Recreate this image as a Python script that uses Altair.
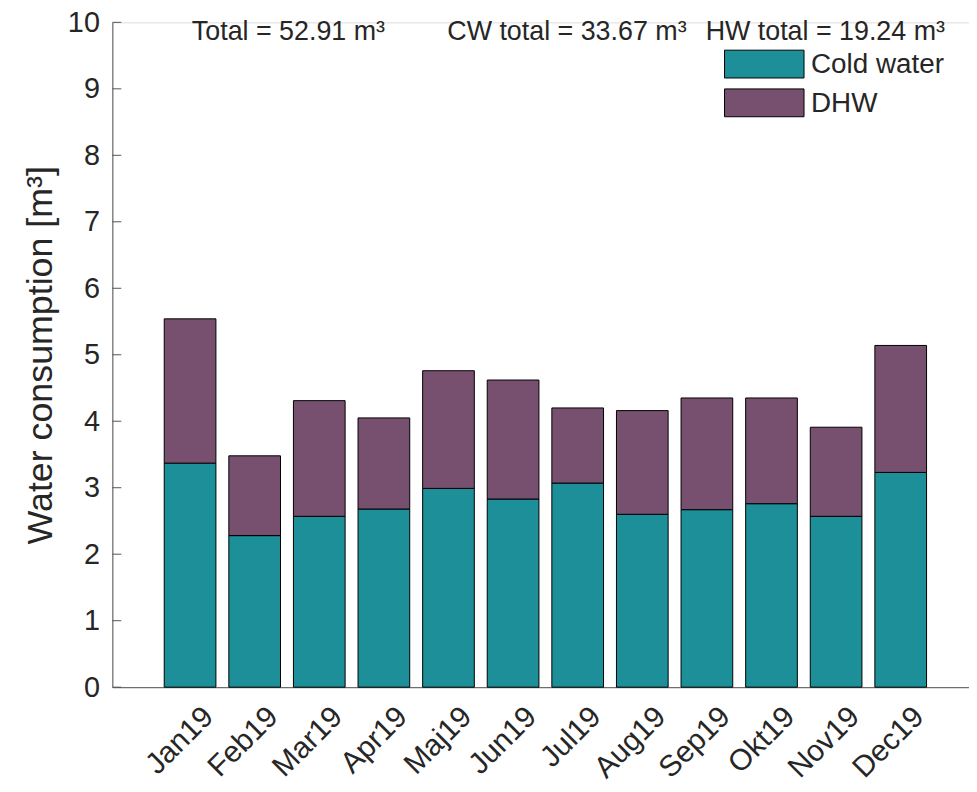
import altair as alt
import pandas as pd

months = ["Jan19", "Feb19", "Mar19", "Apr19", "Maj19", "Jun19",
          "Jul19", "Aug19", "Sep19", "Okt19", "Nov19", "Dec19"]
cold_water = [3.37, 2.28, 2.57, 2.68, 2.99, 2.83, 3.07, 2.60, 2.67, 2.76, 2.57, 3.23]
total = [5.54, 3.48, 4.31, 4.05, 4.76, 4.62, 4.20, 4.16, 4.35, 4.35, 3.91, 5.14]
dhw = [round(t - c, 2) for t, c in zip(total, cold_water)]
series = ["Cold water", "DHW"]
colors = ["#1D8F98", "#774F6F"]
y_ticks = list(range(0, 11))
annotations = ["Total = 52.91 m\u00b3", "CW total = 33.67 m\u00b3", "HW total = 19.24 m\u00b3"]

rows = []
for m, c, h in zip(months, cold_water, dhw):
    rows.append({"month": m, "series": series[0], "value": c, "ord": 0})
    rows.append({"month": m, "series": series[1], "value": h, "ord": 1})
df = pd.DataFrame(rows)

FONT = "Liberation Sans"
TXT = "#262626"
AX = "#555555"

bars = alt.Chart(df).mark_bar(stroke="black", strokeWidth=1).encode(
    x=alt.X("month:N", sort=months,
            scale=alt.Scale(paddingInner=0.2, paddingOuter=0.73, align=0.55),
            axis=alt.Axis(title=None, labelAngle=-45, labelFontSize=30, labelFont=FONT,
                          labelColor=TXT, ticks=False, domainColor=AX, labelPadding=14,
                          labelOffset=8)),
    y=alt.Y("value:Q", stack="zero",
            scale=alt.Scale(domain=[0, 10], nice=False),
            axis=alt.Axis(title="Water consumption [m\u00b3]", values=y_ticks, format="d",
                          ticks=False, grid=False, labelFontSize=29, labelFont=FONT,
                          labelColor=TXT, labelPadding=13, domainColor=AX, titleFontSize=36,
                          titleFont=FONT, titleFontWeight="normal", titleColor=TXT,
                          titlePadding=8)),
    color=alt.Color("series:N", scale=alt.Scale(domain=series, range=colors), legend=None),
    order=alt.Order("ord:Q"),
)

tick_df = pd.DataFrame({"t": y_ticks})
ticks = alt.Chart(tick_df).mark_rule(color=AX, strokeWidth=1).encode(
    y=alt.Y("t:Q"), x=alt.value(0), x2=alt.value(9))

ann_df = pd.DataFrame({"label": annotations})
ann_x = [80, 337, 597]
texts = []
for i, xv in enumerate(ann_x):
    texts.append(alt.Chart(ann_df).transform_filter(
        alt.datum.label == annotations[i]).mark_text(
        align="left", baseline="alphabetic", fontSize=27, font=FONT, color=TXT).encode(
        text="label:N", x=alt.value(xv), y=alt.value(18)))

# legend (manual, to reproduce the wide swatches)
leg_df = pd.DataFrame({"series": series})
legend_layers = []
for i, s in enumerate(series):
    top = 28 + 39 * i
    sel = leg_df[leg_df["series"] == s]
    legend_layers.append(alt.Chart(sel).mark_rect(
        stroke="black", strokeWidth=1, fill=colors[i]).encode(
        x=alt.value(616), x2=alt.value(696), y=alt.value(top), y2=alt.value(top + 28)))
    legend_layers.append(alt.Chart(sel).mark_text(
        align="left", baseline="middle", fontSize=28, font=FONT, color=TXT).encode(
        text="series:N", x=alt.value(703), y=alt.value(top + 15)))

chart = alt.layer(bars, ticks, *texts, *legend_layers).properties(
    width=862, height=669,
    autosize=alt.AutoSizeParams(type="none"),
    padding={"left": 105, "top": 12, "right": 0, "bottom": 95},
).configure_view(stroke=None).configure(background="white")

chart.save("out.html", embed_options={"renderer": "svg", "actions": False})
